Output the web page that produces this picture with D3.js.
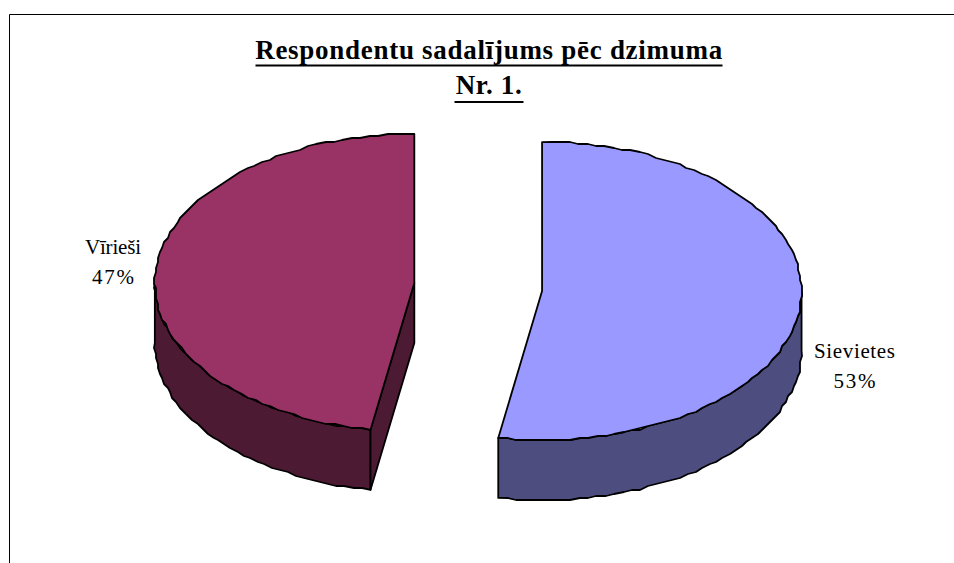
<!DOCTYPE html>
<html>
<head>
<meta charset="utf-8">
<style>
html,body{margin:0;padding:0;background:#fff;}
svg{display:block;}
text{font-family:"Liberation Serif",serif;fill:#000;}
</style>
<script src="https://cdnjs.cloudflare.com/ajax/libs/d3/7.8.5/d3.min.js"></script>
</head>
<body>
<svg id="c" width="954" height="563"></svg>
<script>
const titleLines = ["Respondentu sadalījums pēc dzimuma", "Nr. 1."];
const categories = ["Sievietes", "Vīrieši"];
const shares = [52.7, 47.3];
const topColors = ["#9999FF", "#993366"];
const wallColors = ["#4D4D80", "#4D1A33"];

const svg = d3.select("#c");
const rx = 259.5, ry = 149, depth = 60, explodeX = 0.247, explodeY = 0.32;
const cx = 478.2, cy = 287;
const snap = v => Math.round(v / 2) * 2;   // low-resolution rim, as in the source image

svg.append("path").attr("d", "M9.5 563V14.5H954").attr("fill", "none").attr("stroke", "#000").attr("stroke-width", 1);

const arcs = d3.pie().sort(null).value(d => d)(shares);

const points = (a0, a1, ox, oy, dy) => {
  const n = Math.max(2, Math.ceil(Math.abs(a1 - a0) / 0.035));
  const t = d3.scaleLinear().domain([0, n]).range([a0, a1]);
  return d3.range(n + 1).map(i => {
    const x = cx + ox + rx * Math.sin(t(i));
    const y = cy + oy - ry * Math.cos(t(i));
    const end = i === 0 || i === n;
    return [end ? x : snap(x), (end ? y : snap(y)) + dy];
  });
};
const line = d3.line();
const stroke = g => g.attr("stroke", "#000").attr("stroke-width", 1.8).attr("stroke-linejoin", "round");

const slices = arcs.map((d, i) => {
  const mid = (d.startAngle + d.endAngle) / 2;
  return { d, i, ox: explodeX * rx * Math.sin(mid), oy: -explodeY * ry * Math.cos(mid) };
});

slices.forEach(({ d, i, ox, oy }) => {
  const g = svg.append("g");
  const w0 = Math.max(d.startAngle, Math.PI / 2);
  const w1 = Math.min(d.endAngle, Math.PI * 3 / 2);
  if (w1 > w0) {
    const top = points(w0, w1, ox, oy, 0);
    const bot = points(w1, w0, ox, oy, depth);
    g.append("path").attr("d", line(top.concat(bot)) + "Z").attr("fill", wallColors[i]).call(stroke);
  }
  const edge = d.startAngle;
  if (d.startAngle > Math.PI) {
    const c0 = [cx + ox, cy + oy];
    const e0 = [cx + ox + rx * Math.sin(edge), cy + oy - ry * Math.cos(edge)];
    g.append("path")
      .attr("d", line([c0, e0, [e0[0], e0[1] + depth], [c0[0], c0[1] + depth]]) + "Z")
      .attr("fill", wallColors[i]).call(stroke);
  }
  const rim = points(d.startAngle, d.endAngle, ox, oy, 0);
  g.append("path").attr("d", line([[cx + ox, cy + oy]].concat(rim)) + "Z").attr("fill", topColors[i]).call(stroke);
});

// title
const titleY = [58.5, 93.5], underlineY = [65.5, 102], titleW = [467, 66], underlineW = [467, 69];
titleLines.forEach((t, i) => {
  svg.append("text").attr("x", 488.7).attr("y", titleY[i]).attr("text-anchor", "middle")
    .attr("font-size", 27).attr("font-weight", "bold")
    .attr("textLength", titleW[i]).attr("lengthAdjust", "spacing").text(t);
  svg.append("line").attr("x1", 489 - underlineW[i] / 2).attr("x2", 489 + underlineW[i] / 2)
    .attr("y1", underlineY[i]).attr("y2", underlineY[i]).attr("stroke", "#000").attr("stroke-width", 2.2);
});

// data labels
const labelX = [854.5, 113], labelY = [[358, 388], [254, 284]], labelW = [81, 56], pctW = [42, 42];
categories.forEach((c, i) => {
  svg.append("text").attr("x", labelX[i]).attr("y", labelY[i][0]).attr("text-anchor", "middle")
    .attr("font-size", 21).attr("fill", "#111")
    .attr("textLength", labelW[i]).attr("lengthAdjust", "spacing").text(c);
  svg.append("text").attr("x", labelX[i]).attr("y", labelY[i][1]).attr("text-anchor", "middle")
    .attr("font-size", 21).attr("fill", "#111")
    .attr("textLength", pctW[i]).attr("lengthAdjust", "spacing").text(Math.round(shares[i]) + "%");
});
</script>
</body>
</html>
